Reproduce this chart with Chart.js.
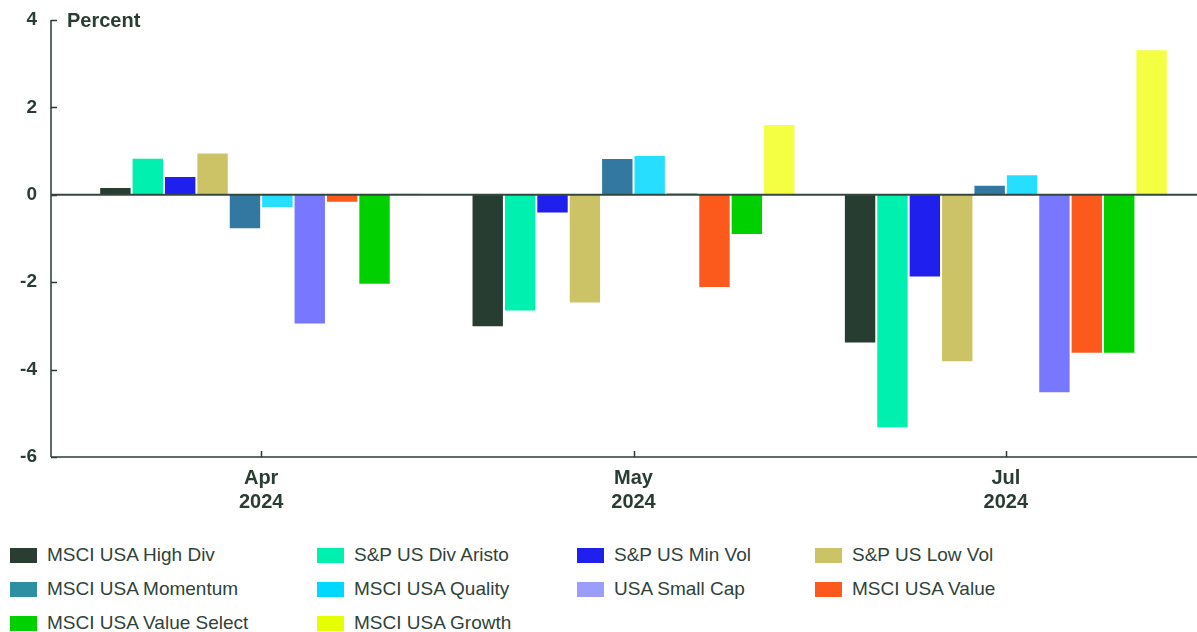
<!DOCTYPE html>
<html>
<head>
<meta charset="utf-8">
<script src="https://cdn.jsdelivr.net/npm/chart.js@4"></script>
<style>
  html, body { margin: 0; padding: 0; background: #ffffff; }
  body { width: 1197px; height: 632px; overflow: hidden; position: relative; font-family: "Liberation Sans", Arial, sans-serif; }
  #wrap { position: absolute; left: 0; top: 0; width: 1197px; height: 530px; }
  #legend {
    position: absolute; left: 10px; top: 538px;
    display: grid; grid-template-columns: 307px 260px 238px auto;
    grid-auto-rows: 34px; align-items: center;
    color: #2f4339; font-size: 19px;
  }
  .item { display: flex; align-items: center; white-space: nowrap; }
  .sw { width: 27px; height: 15px; margin-right: 10px; flex: none; }
</style>
</head>
<body>
<div id="wrap"><canvas id="c" width="1197" height="530"></canvas></div>
<div id="legend"></div>
<script>
// Monthly returns by index, in percent
const months = [['Apr', '2024'], ['May', '2024'], ['Jul', '2024']];

const seriesNames = [
  'MSCI USA High Div', 'S&P US Div Aristo', 'S&P US Min Vol', 'S&P US Low Vol',
  'MSCI USA Momentum', 'MSCI USA Quality', 'USA Small Cap', 'MSCI USA Value',
  'MSCI USA Value Select', 'MSCI USA Growth'
];

const highDiv     = [0.18, -3.03, -3.40];
const divAristo   = [0.85, -2.67, -5.34];
const minVol      = [0.43, -0.43, -1.89];
const lowVol      = [0.97, -2.49, -3.83];
const momentum    = [-0.79, 0.84, 0.23];
const quality     = [-0.30, 0.91, 0.47];
const smallCap    = [-2.97, 0.05, -4.54];
const value       = [-0.18, -2.13, -3.64];
const valueSelect = [-2.06, -0.92, -3.64];
const growth      = [0.05, 1.62, 3.33];

const yTicks = [4, 2, 0, -2, -4, -6];

const barColors = ['#283d31', '#00f0b0', '#2020ee', '#cbc366', '#3378a0',
                   '#26deff', '#7778ff', '#fb5a1c', '#00d000', '#f4ff44'];
const swatchColors = ['#2a3d33', '#00f0b0', '#2020ee', '#cbc366', '#2e8fa0',
                      '#00d8ff', '#9a9dfa', '#fb5a1c', '#00d000', '#e6ff00'];

const seriesValues = [highDiv, divAristo, minVol, lowVol, momentum,
                      quality, smallCap, value, valueSelect, growth];

const ink = '#2a3d33';
const fontFamily = '"Liberation Sans", Arial, sans-serif';

// Axis lines, inward tick marks, zero line and unit label
const axisDecor = {
  id: 'axisDecor',
  afterDatasetsDraw(chart) {
    const { ctx, scales: { x, y } } = chart;
    const axisX = 51;
    const right = chart.width;
    const bottom = y.getPixelForValue(yTicks[yTicks.length - 1]);
    const top = y.getPixelForValue(yTicks[0]);
    ctx.save();
    ctx.strokeStyle = ink;
    ctx.lineWidth = 1.5;
    ctx.beginPath();
    ctx.moveTo(axisX, top);
    ctx.lineTo(axisX, bottom);
    ctx.moveTo(axisX, bottom);
    ctx.lineTo(right, bottom);
    yTicks.forEach(v => {
      const py = Math.round(y.getPixelForValue(v)) + 0.5;
      ctx.moveTo(axisX, py);
      ctx.lineTo(axisX + 6, py);
    });
    months.forEach((m, i) => {
      const px = Math.round(x.getPixelForValue(i)) + 0.5;
      ctx.moveTo(px, bottom);
      ctx.lineTo(px, bottom - 6);
    });
    ctx.stroke();
    // zero line
    const zy = y.getPixelForValue(0);
    ctx.lineWidth = 2;
    ctx.strokeStyle = '#34473e';
    ctx.beginPath();
    ctx.moveTo(axisX, zy);
    ctx.lineTo(right, zy);
    ctx.stroke();
    // unit label
    ctx.fillStyle = ink;
    ctx.font = 'bold 20px ' + fontFamily;
    ctx.textAlign = 'left';
    ctx.textBaseline = 'middle';
    ctx.fillText('Percent', 67, top + 1);
    ctx.restore();
  }
};

new Chart(document.getElementById('c'), {
  type: 'bar',
  data: {
    labels: months,
    datasets: seriesNames.map((name, i) => ({
      label: name,
      data: seriesValues[i],
      backgroundColor: barColors[i],
      borderColor: 'rgba(255,255,255,0.3)',
      borderWidth: 1,
      categoryPercentage: 0.87,
      barPercentage: 1.0
    }))
  },
  options: {
    responsive: false,
    animation: false,
    devicePixelRatio: 1,
    layout: { padding: { top: 20, right: 5, left: 0, bottom: 0 } },
    plugins: { legend: { display: false }, tooltip: { enabled: false } },
    scales: {
      x: {
        grid: { display: false, drawTicks: false },
        border: { display: false },
        ticks: {
          color: ink, padding: 9,
          font: { family: fontFamily, size: 20, weight: 'bold', lineHeight: 1.2 }
        },
        afterFit(scale) {
          scale.height = 73;
          scale.paddingLeft = 0; scale.paddingRight = 0;
        }
      },
      y: {
        min: -6, max: 4,
        grid: { display: false, drawTicks: false },
        border: { display: false },
        afterBuildTicks(scale) { scale.ticks = yTicks.map(v => ({ value: v })); },
        ticks: {
          color: ink, padding: 38,
          font: { family: fontFamily, size: 19, weight: 'bold' },
          callback: v => String(v)
        },
        afterFit(scale) {
          scale.width = 75;
          scale.paddingTop = 0; scale.paddingBottom = 0;
        }
      }
    }
  },
  plugins: [axisDecor]
});

// Legend laid out in four columns
const legend = document.getElementById('legend');
seriesNames.forEach((name, i) => {
  const item = document.createElement('div');
  item.className = 'item';
  const sw = document.createElement('span');
  sw.className = 'sw';
  sw.style.background = swatchColors[i];
  const label = document.createElement('span');
  label.textContent = name;
  item.appendChild(sw);
  item.appendChild(label);
  legend.appendChild(item);
});
</script>
</body>
</html>
